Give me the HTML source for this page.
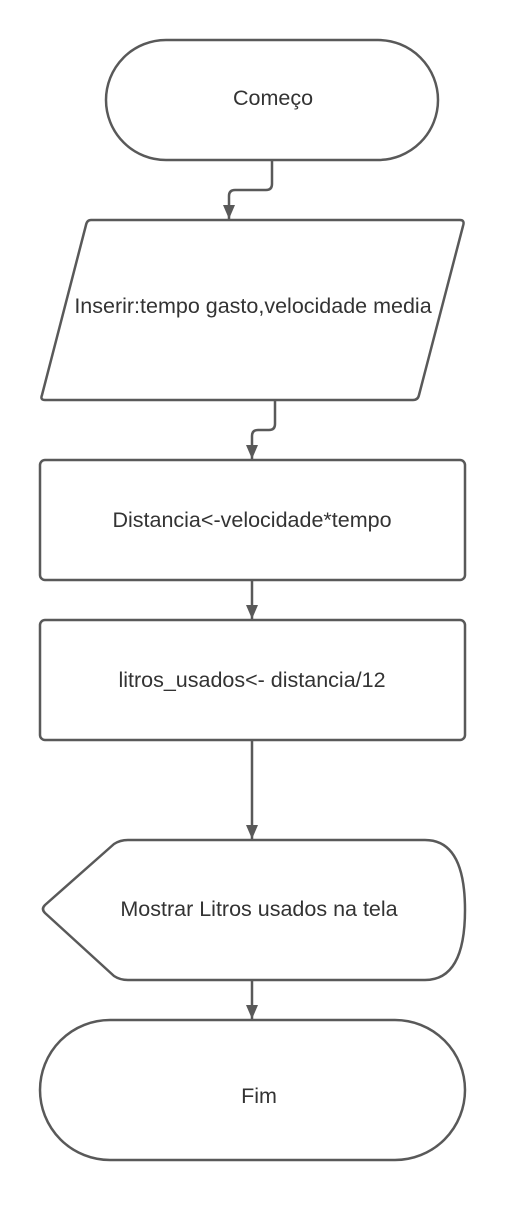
<!DOCTYPE html>
<html><head><style>body{margin:0;background:#fff}svg{display:block}</style></head><body>
<svg width="505" height="1220" viewBox="0 0 505 1220" xmlns="http://www.w3.org/2000/svg">
<defs><marker id="a" markerWidth="14" markerHeight="12" refX="14" refY="6" orient="auto" markerUnits="userSpaceOnUse"><path d="M0,0 L14,6 L0,12 Z" fill="#595959"/></marker></defs>
<g fill="none" stroke="#595959" stroke-width="2.5" stroke-linejoin="round">
<rect x="106" y="40" width="332" height="120" rx="60"/>
<path d="M272,160 V184 Q272,190 266,190 H235 Q229,190 229,196 V219" marker-end="url(#a)"/>
<path d="M91,220 H460 Q465,220 463,226 L419,395 Q418,400 413,400 H45 Q40,400 42,395 L86,225 Q87,220 91,220 Z"/>
<path d="M275,401 V424 Q275,430 269,430 H258 Q252,430 252,436 V459" marker-end="url(#a)"/>
<rect x="40" y="460" width="425" height="120" rx="5"/>
<path d="M252,580 V619" marker-end="url(#a)"/>
<rect x="40" y="620" width="425" height="120" rx="5"/>
<path d="M252,740 V839" marker-end="url(#a)"/>
<path d="M128,840 H425 Q465,840 465,910 Q465,980 425,980 H128 Q120,980 114,976 L45,913 Q41,909 45,905 L114,844 Q120,840 128,840 Z"/>
<path d="M252,981 V1019" marker-end="url(#a)"/>
<rect x="40" y="1020" width="425" height="140" rx="70"/>
</g>
<g font-family="Liberation Sans, sans-serif" font-size="21.5" fill="#333" text-anchor="middle">
<text x="273" y="105">Começo</text>
<text x="253" y="313">Inserir:tempo gasto,velocidade media</text>
<text x="252" y="527">Distancia&lt;-velocidade*tempo</text>
<text x="252" y="687">litros_usados&lt;- distancia/12</text>
<text x="259" y="916">Mostrar Litros usados na tela</text>
<text x="259" y="1103">Fim</text>
</g>
</svg>
</body></html>
